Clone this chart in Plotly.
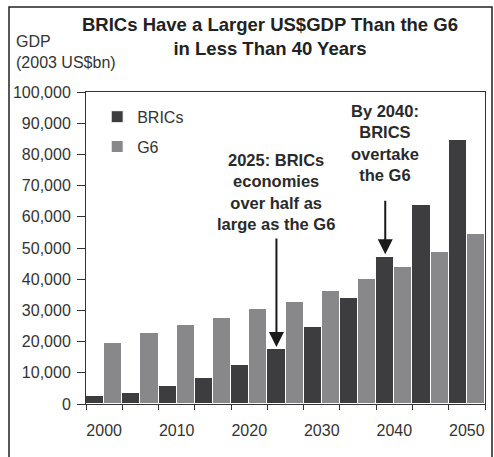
import plotly.graph_objects as go

years = [2000, 2005, 2010, 2015, 2020, 2025, 2030, 2035, 2040, 2045, 2050]
brics = [2700, 3400, 5800, 8400, 12500, 17500, 24600, 34100, 47200, 63700, 84600]
g6 = [19600, 22600, 25300, 27700, 30300, 32700, 36100, 40100, 44000, 48800, 54600]
tick_text = [str(y) if y % 10 == 0 else "" for y in years]

FONT = "Arial, Liberation Sans, sans-serif"
DARK = "#3d3d40"
LIGHT = "#88888b"

cats = [str(y) for y in years]

fig = go.Figure()
fig.add_trace(go.Bar(x=cats, y=brics, name="BRICs", legendgroup="b",
                     marker=dict(color=DARK, line=dict(color="white", width=1))))
fig.add_trace(go.Bar(x=cats, y=g6, name="G6", legendgroup="g",
                     marker=dict(color=LIGHT, line=dict(color="white", width=1))))

# arrows pointing at the BRICs bar of the highlighted year
i25 = years.index(2025)
i40 = years.index(2040)
fig.add_annotation(x=i25 - 0.25, y=brics[i25] + 800, ax=0, ay=-110,
                   showarrow=True, arrowhead=2, arrowsize=1.5, arrowwidth=2,
                   arrowcolor="#1a1a1a", text="")
fig.add_annotation(x=i40 - 0.25, y=brics[i40] + 800, ax=0, ay=-55,
                   showarrow=True, arrowhead=2, arrowsize=1.5, arrowwidth=2,
                   arrowcolor="#1a1a1a", text="")

fig.add_annotation(x=i25 - 0.25, y=brics[i25] + 800, yshift=155,
                   text="<b>2025: BRICs<br>economies<br>over half as<br>large as the G6</b>",
                   showarrow=False, font=dict(family=FONT, size=16.5, color="#2a2a2a"),
                   align="center", yanchor="middle")
fig.add_annotation(x=i40 - 0.25, y=brics[i40] + 800, yshift=111,
                   text="<b>By 2040:<br>BRICS<br>overtake<br>the G6</b>",
                   showarrow=False, font=dict(family=FONT, size=16.5, color="#2a2a2a"),
                   align="center", yanchor="middle")

# title and axis caption
fig.add_annotation(x=(270 - 86) / 399, y=(404 - 37) / 312, xref="paper", yref="paper",
                   text="<b>BRICs Have a Larger US$GDP Than the G6<br>in Less Than 40 Years</b>",
                   showarrow=False, font=dict(family=FONT, size=18.5, color="#222"),
                   align="center", xanchor="center", yanchor="middle")
fig.add_annotation(x=(14 - 86) / 399, y=(404 - 52) / 312, xref="paper", yref="paper",
                   text="GDP<br>(2003 US$bn)", xanchor="left", yanchor="middle",
                   showarrow=False, font=dict(family=FONT, size=16, color="#333"),
                   align="left")

# outer frame
fig.add_shape(type="rect", xref="paper", yref="paper",
              x0=(9 - 86) / 399, x1=(492 - 86) / 399,
              y0=(404 - 480) / 312, y1=(404 - 7) / 312,
              line=dict(color="#222", width=1.5))

fig.update_layout(
    width=494, height=457,
    margin=dict(l=86, r=9, t=92, b=53),
    paper_bgcolor="white", plot_bgcolor="white",
    barmode="group", bargap=0, bargroupgap=0,
    font=dict(family=FONT, size=16, color="#333"),
    legend=dict(x=0.028, y=0.975, xanchor="left", yanchor="top",
                tracegroupgap=6, traceorder="grouped",
                font=dict(size=16, color="#333"), bgcolor="rgba(0,0,0,0)"),
)
fig.update_xaxes(type="category", tickvals=cats, ticktext=tick_text, tickangle=0,
                 tickson="boundaries", ticks="outside", ticklen=5,
                 ticklabelstandoff=12,
                 tickcolor="#333", showline=True, linecolor="#333", mirror=True,
                 showgrid=False)
fig.update_yaxes(range=[0, 100000], dtick=10000, tickformat=",",
                 ticks="outside", ticklen=8, ticklabelstandoff=3, tickcolor="#333",
                 showline=True, linecolor="#333", mirror=True, showgrid=False)

# page has a default 8px body margin; drop it so the figure fills the window
fig.write_html("out.html", config={"displayModeBar": False},
               post_script="document.body.style.margin = '0';")
